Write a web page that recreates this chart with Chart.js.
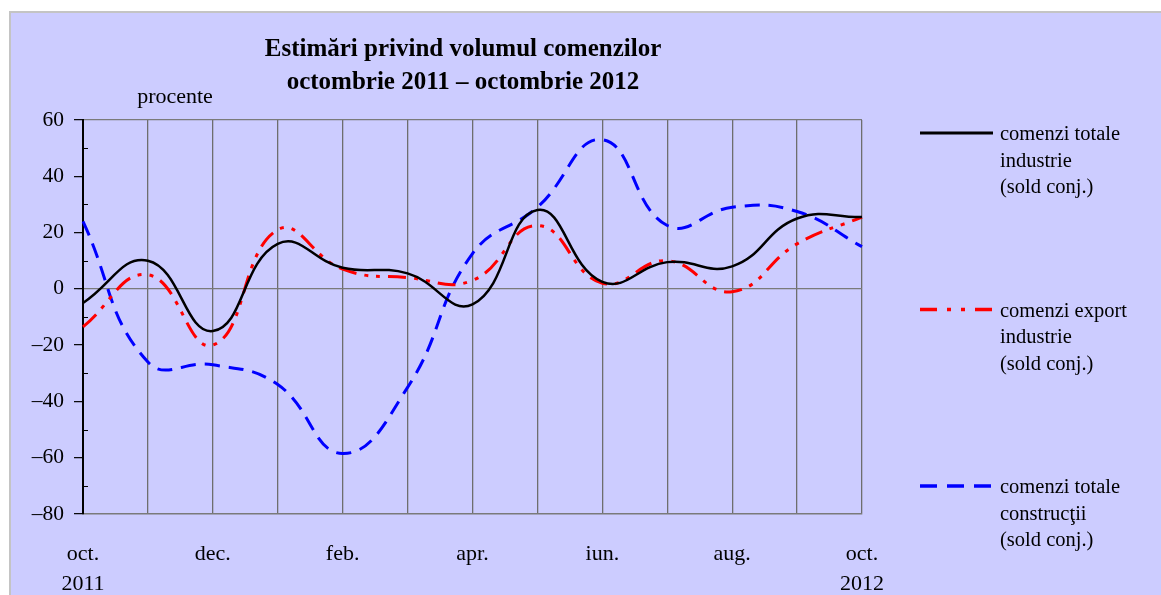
<!DOCTYPE html>
<html lang="ro">
<head>
<meta charset="utf-8">
<title>Estimări privind volumul comenzilor</title>
<script src="https://cdn.jsdelivr.net/npm/chart.js@4.4.1/dist/chart.umd.min.js"></script>
<style>
  html, body { margin: 0; padding: 0; background: #ffffff; }
  body { width: 1161px; height: 595px; position: relative; overflow: hidden; }
  .panel {
    position: absolute; left: 9px; top: 11px; right: 0; bottom: 0;
    background: #ccccff;
    border-left: 2px solid #c4c4c4;
    border-top: 2px solid #c4c4c4;
  }
  .wrap { position: absolute; left: 0; top: 0; width: 1161px; height: 595px; }
</style>
</head>
<body>
<div class="panel"></div>
<div class="wrap"><canvas id="ordersChart" width="1161" height="595"></canvas></div>
<script>
// luni: oct. 2011 - oct. 2012
const MONTHS = ["oct. 2011", "nov.", "dec.", "ian.", "feb.", "mar.", "apr.", "mai", "iun.", "iul.", "aug.", "sep.", "oct. 2012"];
const TICK_LABELS = [["oct.", "2011"], "", "dec.", "", "feb.", "", "apr.", "", "iun.", "", "aug.", "", ["oct.", "2012"]];

// sold conjunctural, procente
const TOTAL_INDUSTRY = [-5, 10, -15, 16, 7.5, 5.5, -5.5, 28, 2.5, 9.5, 8, 25, 25.5];
const EXPORT_INDUSTRY = [-13.5, 5, -20, 21, 7, 4, 3, 22.5, 2, 10, -1, 16, 25.5];
const TOTAL_CONSTRUCTION = [24, -26, -27, -34, -58.5, -35, 12.5, 29, 53, 22.5, 29, 27.5, 15];

const TITLE_LINES = ["Estimări privind volumul comenzilor", "octombrie 2011 – octombrie 2012"];
const UNIT_LABEL = "procente";

const SERIF = "'Liberation Serif', 'Times New Roman', 'DejaVu Serif', serif";

const SERIES = [
  {
    label: ["comenzi totale", "industrie", "(sold conj.)"],
    data: TOTAL_INDUSTRY,
    color: "#000000",
    width: 2.5,
    dash: [],
    legendDash: [],
  },
  {
    label: ["comenzi export", "industrie", "(sold conj.)"],
    data: EXPORT_INDUSTRY,
    color: "#ff0000",
    width: 3,
    dash: [18, 8, 4, 8, 4, 8],
    legendDash: [17, 10, 4, 10, 4, 10],
  },
  {
    label: ["comenzi totale", "construcţii", "(sold conj.)"],
    data: TOTAL_CONSTRUCTION,
    color: "#0000ff",
    width: 3,
    dash: [15, 9],
    legendDash: [17, 10],
  },
];

function formatTick(value) {
  if (value % 20 !== 0) {
    return "";
  }
  return value < 0 ? `\u2013${Math.abs(value)}` : String(value);
}

// titlu, "procente", liniuţe interioare şi legenda din dreapta
const decorations = {
  id: "decorations",
  afterDraw(chart) {
    const { ctx, chartArea } = chart;
    const yScale = chart.scales.y;
    ctx.save();

    // minor ticks (la 10) in interiorul graficului
    ctx.strokeStyle = "#000000";
    ctx.lineWidth = 1;
    for (let v = -70; v < 60; v += 20) {
      const y = Math.round(yScale.getPixelForValue(v)) + 0.5;
      ctx.beginPath();
      ctx.moveTo(chartArea.left, y);
      ctx.lineTo(chartArea.left + 5, y);
      ctx.stroke();
    }

    ctx.fillStyle = "#000000";
    ctx.textAlign = "center";
    ctx.textBaseline = "middle";
    ctx.font = `bold 25px ${SERIF}`;
    TITLE_LINES.forEach((line, index) => {
      ctx.fillText(line, 463, 50 + index * 33);
    });

    ctx.font = `22px ${SERIF}`;
    ctx.fillText(UNIT_LABEL, 175, 97);

    // legenda
    ctx.font = `20.5px ${SERIF}`;
    const lineStart = chartArea.right + 58;
    const lineEnd = chartArea.right + 131;
    const textX = chartArea.right + 138;
    SERIES.forEach((series, index) => {
      const y = 133 + index * 176.5;
      ctx.strokeStyle = series.color;
      ctx.lineWidth = series.width + 0.5;
      ctx.setLineDash(series.legendDash);
      ctx.beginPath();
      ctx.moveTo(lineStart, y);
      ctx.lineTo(lineEnd, y);
      ctx.stroke();
      ctx.setLineDash([]);

      ctx.textAlign = "left";
      ctx.fillStyle = "#000000";
      series.label.forEach((text, row) => {
        ctx.fillText(text, textX, y + 2 + row * 26.5);
      });
    });

    ctx.restore();
  },
};

new Chart(document.getElementById("ordersChart"), {
  type: "line",
  data: {
    labels: MONTHS,
    datasets: SERIES.map((series) => ({
      label: series.label.join(" "),
      data: series.data,
      borderColor: series.color,
      backgroundColor: series.color,
      borderWidth: series.width,
      borderDash: series.dash,
      pointRadius: 0,
      pointHoverRadius: 0,
      tension: 0.45,
      fill: false,
    })),
  },
  options: {
    responsive: false,
    animation: false,
    events: [],
    layout: {
      padding: { left: 13, right: 299, top: 120, bottom: 3 },
    },
    plugins: {
      legend: { display: false },
      title: { display: false },
      tooltip: { enabled: false },
    },
    scales: {
      x: {
        offset: false,
        afterFit: (scale) => { scale.height = 78; },
        grid: {
          color: "#6e6e6e",
          lineWidth: 1.3,
          drawTicks: false,
        },
        border: { color: "#7a7a7a", width: 1.5 },
        ticks: {
          autoSkip: false,
          maxRotation: 0,
          minRotation: 0,
          padding: 25,
          color: "#000000",
          font: { family: SERIF, size: 22, lineHeight: 1.36 },
          callback: (value, index) => TICK_LABELS[index],
        },
      },
      y: {
        min: -80,
        max: 60,
        afterFit: (scale) => { scale.width = 70; },
        grid: {
          color: (context) => {
            const v = context.tick ? context.tick.value : null;
            return v === 0 || v === 60 ? "#7a7a7a" : "rgba(0,0,0,0)";
          },
          lineWidth: 1.3,
          drawTicks: true,
          tickLength: 9,
          tickColor: (context) => {
            const v = context.tick ? context.tick.value : null;
            return v !== null && v % 20 === 0 ? "#000000" : "rgba(0,0,0,0)";
          },
          tickWidth: 1.2,
        },
        border: { color: "#000000", width: 2 },
        ticks: {
          stepSize: 10,
          padding: 10,
          color: "#000000",
          font: { family: SERIF, size: 21.5 },
          callback: formatTick,
        },
      },
    },
  },
  plugins: [decorations],
});
</script>
</body>
</html>
